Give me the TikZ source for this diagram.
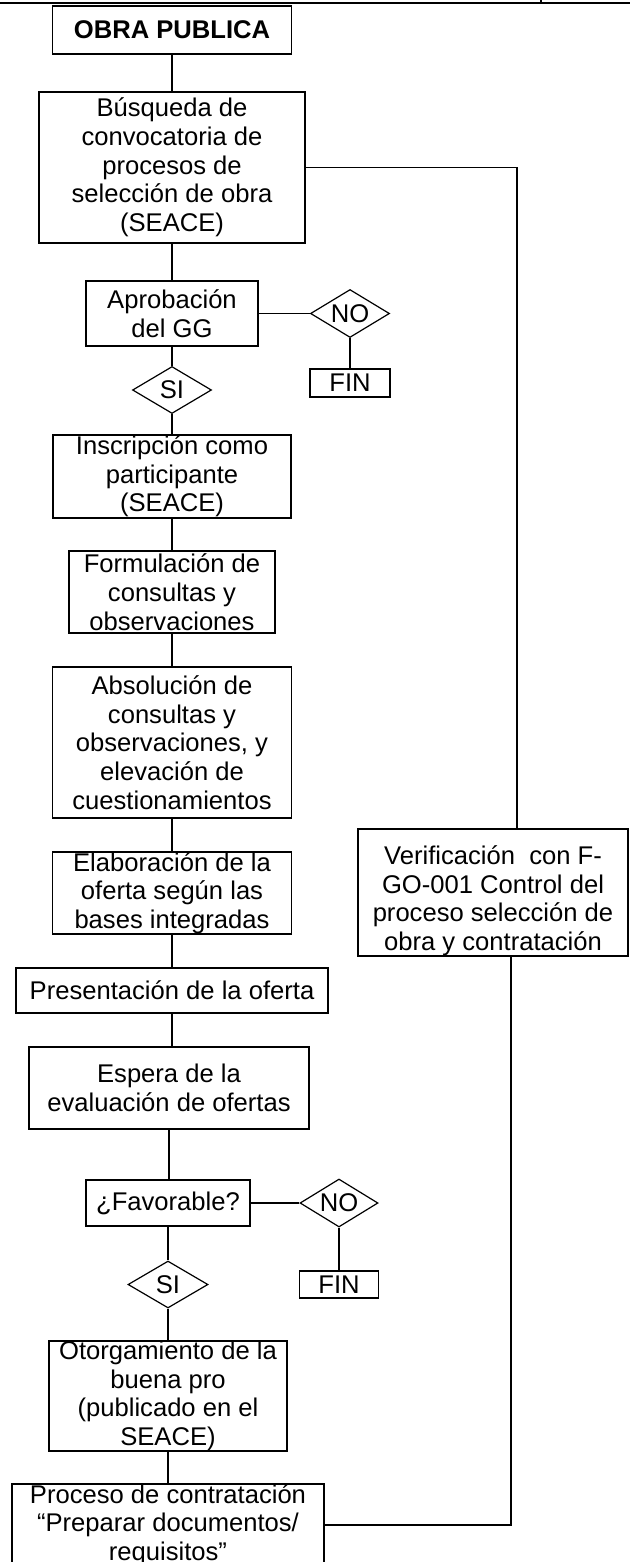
\documentclass[tikz,border=0pt]{standalone}
\usepackage{fontspec}
\setmainfont{Liberation Sans}
\usetikzlibrary{shapes.geometric}

\begin{document}
\begin{tikzpicture}[x=0.5pt,y=0.5pt,yscale=-1,xscale=1,line width=0.6pt,
  box/.style={draw, rectangle, align=center, inner sep=0pt, font=\fontsize{12.8}{14.35}\selectfont},
  decision/.style={draw, diamond, aspect=1.65, inner sep=0pt, font=\fontsize{12.8}{14.35}\selectfont}]
%set diagram left start at 0, and has height of 1562
\useasboundingbox (0,0) rectangle (630,1562);
\clip (0,0) rectangle (630,1562);

%Straight Lines (table rule)
\draw (0,3) -- (630,3);
\draw (541,0) -- (541,3);

%Shape: Rectangle
\node [box, minimum width=119.5pt, minimum height=24pt, font=\fontsize{12.8}{14.35}\selectfont\bfseries] (obra) at (172,30) {OBRA PUBLICA};
%Shape: Rectangle
\node [box, minimum width=133pt, minimum height=75.5pt] (busq) at (172,167.5) {Búsqueda de\\convocatoria de\\procesos de\\selección de obra\\(SEACE)};
%Shape: Rectangle
\node [box, minimum width=86pt, minimum height=32.5pt] (aprob) at (172,313.5) {Aprobación\\del GG};
%Shape: Diamond
\node [decision, minimum width=39.5pt, minimum height=24pt] (no1) at (350,313.5) {NO};
%Shape: Rectangle
\node [box, minimum width=40pt, minimum height=14pt] (fin1) at (350,383) {FIN};
%Shape: Diamond
\node [decision, minimum width=39.5pt, minimum height=23.5pt] (si1) at (172,390) {SI};
%Shape: Rectangle
\node [box, minimum width=119pt, minimum height=41.5pt] (inscr) at (172,476.5) {Inscripción como\\participante\\(SEACE)};
%Shape: Rectangle
\node [box, minimum width=103pt, minimum height=41pt] (formul) at (172,592) {Formulación de\\consultas y\\observaciones};
%Shape: Rectangle
\node [box, minimum width=119.5pt, minimum height=75.5pt] (absol) at (172,742.5) {Absolución de\\consultas y\\observaciones, y\\elevación de\\cuestionamientos};
%Shape: Rectangle
\node [box, minimum width=119.5pt, minimum height=41pt] (elab) at (172,893) {Elaboración de la\\oferta según las\\bases integradas};
%Shape: Rectangle
\node [box, minimum width=156pt, minimum height=22.5pt] (pres) at (172,990.5) {Presentación de la oferta};
%Shape: Rectangle
\node [box, minimum width=140pt, minimum height=41pt] (espera) at (169,1088) {Espera de la\\evaluación de ofertas};
%Shape: Rectangle
\node [box, minimum width=82pt, minimum height=23pt] (fav) at (168,1203) {¿Favorable?};
%Shape: Diamond
\node [decision, minimum width=39pt, minimum height=24pt] (no2) at (339,1203) {NO};
%Shape: Rectangle
\node [box, minimum width=39.5pt, minimum height=13.5pt] (fin2) at (339,1284.5) {FIN};
%Shape: Diamond
\node [decision, minimum width=40pt, minimum height=23.5pt] (si2) at (168,1284.5) {SI};
%Shape: Rectangle
\node [box, minimum width=119pt, minimum height=54pt] (otorg) at (168,1396) {Otorgamiento de la\\buena pro\\(publicado en el\\SEACE)};
%Shape: Rectangle
\node [box, minimum width=156pt, minimum height=41pt] (proc) at (168,1525) {Proceso de contratación\\“Preparar documentos/\\requisitos”};
%Shape: Rectangle
\node [box, minimum width=135pt, minimum height=63.5pt] (verif) at (493,892.5) {\rule{0pt}{17.5pt}Verificación~ con F-\\GO-001 Control del\\proceso selección de\\obra y contratación};

\coordinate (rtop) at (517,167.5);
\coordinate (rbot) at (511,1525);

%Straight Lines
\draw (obra) -- (busq);
\draw (busq) -- (aprob);
\draw (aprob) -- (no1);
\draw (no1) -- (fin1);
\draw (aprob) -- (si1);
\draw (si1) -- (inscr);
\draw (inscr) -- (formul);
\draw (formul) -- (absol);
\draw (absol) -- (elab);
\draw (elab) -- (pres);
\draw (pres) -- (pres |- espera.north);
\draw (espera) -- (espera |- fav.north);
\draw (fav) -- (no2);
\draw (no2) -- (fin2);
\draw (fav) -- (si2);
\draw (si2) -- (otorg);
\draw (otorg) -- (proc);
%Straight Lines (verification loop)
\draw (busq) -- (rtop) -- (rtop |- verif.north);
\draw (proc) -- (rbot) -- (rbot |- verif.south);

\end{tikzpicture}
\end{document}
